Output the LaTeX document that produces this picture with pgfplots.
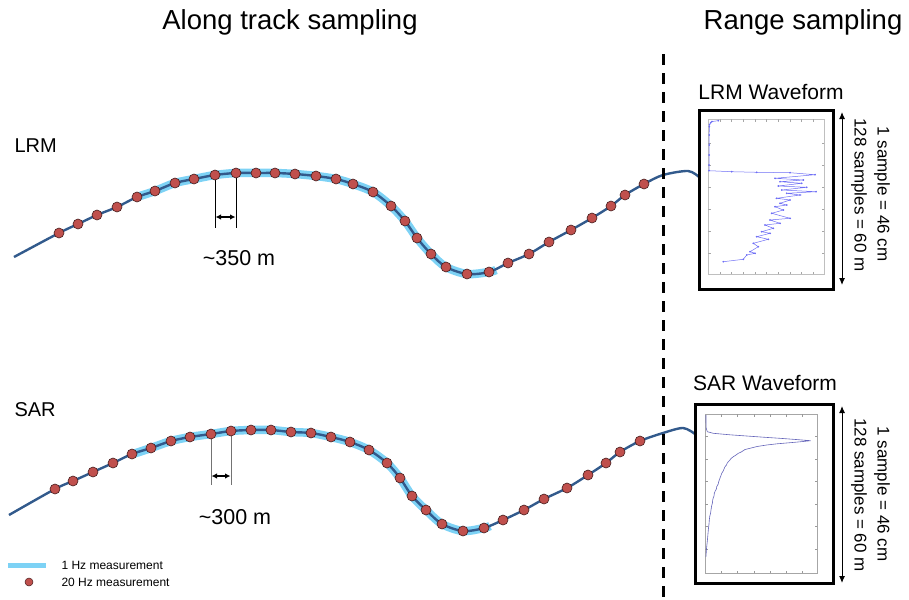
\documentclass[border=0pt]{standalone}
\usepackage{pgfplots}
\pgfplotsset{compat=1.18}
\usepackage{fontspec}
\setmainfont{Liberation Sans}
\usetikzlibrary{arrows.meta}
\definecolor{track}{RGB}{50,90,140}
\definecolor{band}{RGB}{125,210,245}
\definecolor{dotred}{RGB}{192,80,77}
\definecolor{dotedge}{RGB}{70,30,30}
\definecolor{wlrm}{RGB}{110,110,245}
\definecolor{wsar}{RGB}{100,100,185}
\begin{document}
\begin{tikzpicture}
\begin{axis}[x=1pt,y=1pt,y dir=reverse,xmin=0,xmax=909,ymin=0,ymax=598,hide axis,clip=false]
\path (axis cs:0,0) rectangle (axis cs:909,598);
% ---------- 1 Hz bands ----------
\addplot[band, line width=8.5pt, smooth, line cap=butt] coordinates {
(140,196)(155,191)(175,183)(194,179)(215,175)(236,173)(256,173)(275,173)(295,174)(316,176)(336,179)(353,184)(373,192)(391,206)(405,221)(417,238)(431,254)(446,267)(467,274)(489,272)(496,270)};
\addplot[band, line width=8.5pt, smooth, line cap=butt] coordinates {
(133,454)(151,448)(171,441)(190,437)(211,434)(231,431)(251,430)(271,430)(291,432)(311,433)(331,437)(350,442)(369,450)(387,463)(400,478)(412,496)(426,510)(442,524)(463,531)(484,528)(490,526)};
% ---------- tracks ----------
\addplot[track, line width=2.4pt, smooth] coordinates {
(14,257)(59,233)(78,224)(97,215)(117,207)(137,197)(155,191)(175,183)(194,179)(215,175)(236,173)(256,173)(275,173)(295,174)(316,176)(336,179)(353,184)(373,192)(391,206)(405,221)(417,238)(431,254)(446,267)(467,274)(489,272)(508,263)(529,254)(549,242)(571,230)(592,218)(611,206)(625,195)(644,184)(663,175)(688,171)(699,177)};
\addplot[track, line width=2.4pt, smooth] coordinates {
(9,515)(55,489)(73,481)(93,472)(113,463)(132,454)(151,448)(171,441)(190,437)(211,434)(231,431)(251,430)(271,430)(291,432)(311,433)(331,437)(350,442)(369,450)(387,463)(400,478)(412,496)(426,510)(442,524)(463,531)(484,528)(503,520)(524,510)(544,499)(567,488)(588,475)(606,463)(620,452)(640,441)(663,433)(683,428)(695,434)};
% ---------- 20 Hz dots ----------
\addplot[only marks, mark=*, mark size=5pt, mark options={fill=dotred, draw=dotedge, line width=0.6pt}] coordinates {
(59,233)(78,224)(97,215)(117,207)(137,197)(155,191)(175,183)(194,179)(215,175)(236,173)(256,173)(275,173)(295,174)(316,176)(336,179)(353,184)(373,192)(391,206)(405,221)(417,238)(431,254)(446,267)(467,274)(489,272)(508,263)(529,254)(549,242)(571,230)(592,218)(611,206)(625,195)(644,184)};
\addplot[only marks, mark=*, mark size=5pt, mark options={fill=dotred, draw=dotedge, line width=0.6pt}] coordinates {
(55,489)(73,481)(93,472)(113,463)(132,454)(151,448)(171,441)(190,437)(211,434)(231,431)(251,430)(271,430)(291,432)(311,433)(331,437)(350,442)(369,450)(387,463)(400,478)(412,496)(426,510)(442,524)(463,531)(484,528)(503,520)(524,510)(544,499)(567,488)(588,475)(606,463)(620,452)(640,441)};
% ---------- spacing markers ----------
\draw[black, line width=1pt] (axis cs:215,175) -- (axis cs:215,228);
\draw[black, line width=1pt] (axis cs:236,173) -- (axis cs:236,228);
\draw[black, line width=1.2pt, {Latex[length=5.5pt,width=5.5pt]}-{Latex[length=5.5pt,width=5.5pt]}] (axis cs:215.5,217) -- (axis cs:235.5,217);
\node[font=\fontsize{21.5}{24}\selectfont] at (axis cs:239,258) {\char`~350 m};
\draw[black!55, line width=1pt] (axis cs:211,434) -- (axis cs:211,485);
\draw[black!55, line width=1pt] (axis cs:231,431) -- (axis cs:231,485);
\draw[black, line width=1.2pt, {Latex[length=5.5pt,width=5.5pt]}-{Latex[length=5.5pt,width=5.5pt]}] (axis cs:211.5,476) -- (axis cs:230.5,476);
\node[font=\fontsize{21.5}{24}\selectfont] at (axis cs:235,517) {\char`~300 m};
% ---------- titles ----------
\node[font=\fontsize{27.5}{32}\selectfont] at (axis cs:290,22) {Along track sampling};
\node[font=\fontsize{27.5}{32}\selectfont] at (axis cs:803,22) {Range sampling};
\node[font=\fontsize{20}{22}\selectfont, anchor=west] at (axis cs:11,146) {LRM};
\node[font=\fontsize{20}{22}\selectfont, anchor=west] at (axis cs:11,410) {SAR};
% ---------- dashed separator ----------
\draw[black, line width=3pt, dash pattern=on 11pt off 8pt] (axis cs:663,54) -- (axis cs:663,598);
% ---------- waveform boxes ----------
\draw[black, line width=3pt] (axis cs:699,110) rectangle (axis cs:833,289);
\draw[black, line width=3pt] (axis cs:695,404) rectangle (axis cs:833,583);
\node[font=\fontsize{21}{24}\selectfont] at (axis cs:771,92) {LRM Waveform};
\node[font=\fontsize{21}{24}\selectfont] at (axis cs:765,383) {SAR Waveform};
% inner frames
\draw[black!25, line width=0.8pt] (axis cs:708,119) rectangle (axis cs:824,274);
\draw[black!35, line width=0.8pt] (axis cs:705,414) rectangle (axis cs:817,573);
\pgfplotsinvokeforeach{720,731.7,743.3,755,766.7,778.3,790,801.7,813.3}{
  \draw[black!35, line width=0.5pt] (axis cs:#1,119) -- (axis cs:#1,121.5);
  \draw[black!35, line width=0.5pt] (axis cs:#1,274) -- (axis cs:#1,271.5);}
\pgfplotsinvokeforeach{143.3,165,187.3,209,231,253.3}{
  \draw[black!35, line width=0.5pt] (axis cs:708,#1) -- (axis cs:710.5,#1);
  \draw[black!35, line width=0.5pt] (axis cs:824,#1) -- (axis cs:821.5,#1);}
\pgfplotsinvokeforeach{721.7,737.3,754,770,786.7,802.7}{
  \draw[black!40, line width=0.5pt] (axis cs:#1,414) -- (axis cs:#1,416.5);
  \draw[black!40, line width=0.5pt] (axis cs:#1,573) -- (axis cs:#1,570.5);}
\pgfplotsinvokeforeach{436,459.3,481.7,504.3,526.7,549.3}{
  \draw[black!40, line width=0.5pt] (axis cs:705,#1) -- (axis cs:707.5,#1);
  \draw[black!40, line width=0.5pt] (axis cs:817,#1) -- (axis cs:814.5,#1);}
% LRM waveform
\addplot[wlrm, line width=0.5pt, mark=*, mark size=0.6pt] coordinates {
(718.3,120.7)(712,121.5)(710.7,122.7)(709.5,124.5)(709.3,126.7)(709.2,135)(709.2,145)(709.1,155)(709,165)(709,170.7)(731.7,171.7)(756.7,172.3)(790,172.7)(815,174.7)
(775,178.3)(803.3,180)(780,181.7)(801.7,183.3)(778.3,186)(806.7,187.3)(781.7,190)(816,191.7)(786.7,193.3)(800,195)(776.7,198.3)(790,200)(780,203.3)(786.7,205)(775,206.7)(783.3,210)(771.7,213.3)(790,218.3)(770,220)(780,223.3)(765,225)(773.3,228.3)(761.7,231.7)(770,233.3)(756.7,236.7)(768.3,239.3)(753.3,243.3)(758.3,246.7)(750,251.7)(755,253.3)(746.7,255)(743.3,259.3)(723.3,261.7)};
% SAR waveform
\addplot[wsar, line width=0.6pt] coordinates {
(706,415)(706,422)(706.2,428.3)(707.3,431.7)(713.3,433.3)(730,434.8)(746.7,436)(765,437.3)(780,438.3)(796,439.5)(810.7,440.7)(800,441.8)(790,442.7)(777,443.8)(766.7,445)(757,446.5)(750,448.3)(745,449.5)(741.7,451.7)(738,453.5)(736,455)(733.3,456.7)(731,458.5)(729.5,460.5)(728.3,461.7)(727,463.5)(726.5,465)(725,466.7)(724,469)(723.2,471)(721.7,473.3)(721,475.5)(720.2,477.5)(719.3,480)(718.6,482)(718.2,484)(716.7,486.7)(716.4,489)(715.2,491)(714.3,493.3)(714,496)(713.2,498)(712.7,500)(712.4,503)(711.6,506)(711,510)(710.6,513)(709.8,516)(709.3,520)(709,524)(708.5,528)(708,533.3)(707.6,538)(707.2,542)(706.7,546.7)(706.3,551)(706,556.7)};
% size arrows and labels
\draw[black, line width=1pt, {Latex[length=7pt,width=6pt]}-{Latex[length=7pt,width=6pt]}] (axis cs:842,112) -- (axis cs:842,285);
\draw[black, line width=1pt, {Latex[length=7pt,width=6pt]}-{Latex[length=7pt,width=6pt]}] (axis cs:842,406) -- (axis cs:842,583);
\node[font=\fontsize{17}{20}\selectfont, rotate=-90] at (axis cs:882,194) {1 sample = 46 cm};
\node[font=\fontsize{17}{20}\selectfont, rotate=-90] at (axis cs:859,195) {128 samples = 60 m};
\node[font=\fontsize{17}{20}\selectfont, rotate=-90] at (axis cs:882,494) {1 sample = 46 cm};
\node[font=\fontsize{17}{20}\selectfont, rotate=-90] at (axis cs:859,495) {128 samples = 60 m};
% ---------- legend ----------
\addplot[band, line width=5pt, line cap=butt] coordinates {(8,565)(46,565)};
\addplot[only marks, mark=*, mark size=4pt, mark options={fill=dotred, draw=dotedge, line width=0.5pt}] coordinates {(29,582)};
\node[font=\fontsize{12}{14}\selectfont, anchor=west] at (axis cs:58,565) {1 Hz measurement};
\node[font=\fontsize{12}{14}\selectfont, anchor=west] at (axis cs:58,582) {20 Hz measurement};
\end{axis}
\end{tikzpicture}
\end{document}
